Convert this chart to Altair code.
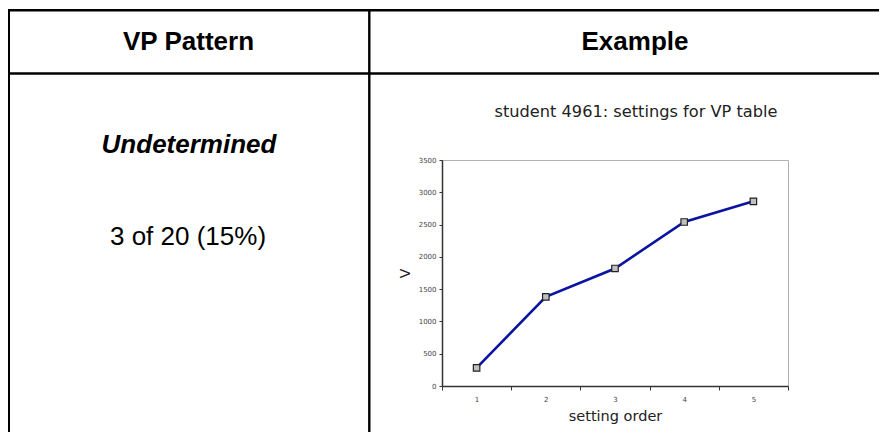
import altair as alt
import pandas as pd

# Data
orders = [1, 2, 3, 4, 5]
values = [280, 1380, 1820, 2540, 2860]
y_ticks = [0, 500, 1000, 1500, 2000, 2500, 3000, 3500]

col_headers = ["VP Pattern", "Example"]
pattern_name = "Undetermined"
pattern_count = "3 of 20 (15%)"
chart_title = "student 4961: settings for VP table"
x_title = "setting order"
y_title = "V"

df = pd.DataFrame({"order": orders, "v": values})
one = pd.DataFrame({"k": [0]})

W, H = 346, 226

x_enc = alt.X(
    "order:O",
    scale=alt.Scale(type="band", paddingInner=0, paddingOuter=0),
    axis=alt.Axis(
        title=x_title, labelAngle=0, tickBand="extent", tickSize=4,
        labelFontSize=7, labelColor="#444444", labelPadding=5,
        labelFont="DejaVu Sans",
        domainColor="#333333", domainWidth=1.5, tickColor="#333333", tickWidth=1,
        titleFont="DejaVu Sans", titleFontSize=14.5, titleFontWeight="normal",
        titleColor="#222222", titleBaseline="middle", titleY=30,
    ),
)
y_enc = alt.Y(
    "v:Q",
    scale=alt.Scale(domain=[0, 3500], nice=False),
    axis=alt.Axis(
        title=y_title, values=y_ticks, format="d", grid=False, tickSize=3,
        labelFontSize=7, labelColor="#444444", labelPadding=3,
        labelFont="DejaVu Sans",
        domainColor="#333333", domainWidth=1.5, tickColor="#333333", tickWidth=1,
        titleFont="DejaVu Sans", titleFontSize=14, titleFontWeight="normal",
        titleColor="#222222", titleAngle=270, titleX=-37, titleY=113,
        titleBaseline="middle", titleAlign="center",
    ),
)

line = alt.Chart(df).mark_line(color="#0a14a0", strokeWidth=2.6).encode(x=x_enc, y=y_enc)
pts = alt.Chart(df).mark_point(
    shape="square", size=42, filled=True, fill="#c0c0c0", stroke="#222222",
    strokeWidth=1.2, opacity=1,
).encode(x=x_enc, y=y_enc)


def hrule(y, x1, x2, w=2.4):
    return alt.Chart(one).mark_rule(color="black", strokeWidth=w).encode(
        x=alt.value(x1), x2=alt.value(x2), y=alt.value(y)
    )


def vrule(x, y1, y2, w=2.4):
    return alt.Chart(one).mark_rule(color="black", strokeWidth=w).encode(
        x=alt.value(x), y=alt.value(y1), y2=alt.value(y2)
    )


def label(text, x, y, size, weight="normal", style="normal", font="Liberation Sans", color="black"):
    return alt.Chart(one).mark_text(
        text=text, font=font, fontSize=size, fontWeight=weight, fontStyle=style,
        color=color, align="center", baseline="middle",
    ).encode(x=alt.value(x), y=alt.value(y))


table = [
    hrule(-149.8, -435, 445),
    hrule(-86.5, -435, 445),
    vrule(-433.2, -151, 290),
    vrule(-72.7, -151, 290),
    label(col_headers[0], -253.5, -118.3, 26, weight="bold"),
    label(col_headers[1], 193, -118.3, 26, weight="bold"),
    label(pattern_name, -253, -15, 26, weight="bold", style="italic"),
    label(pattern_count, -254, 77, 26),
    label(chart_title, 194, -48, 16.2, font="DejaVu Sans", color="#222222"),
]

chart = alt.layer(line, pts, *table).properties(
    width=W, height=H,
    autosize=alt.AutoSizeParams(type="none"),
    padding={"left": 434, "top": 152, "right": 91, "bottom": 46},
    background="white",
).configure_view(stroke="#b0b0b0", strokeWidth=1)

chart.save("out.html", embed_options={"renderer": "svg", "actions": False})
